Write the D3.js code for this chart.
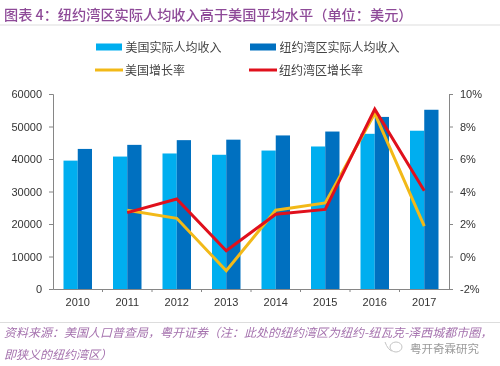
<!DOCTYPE html>
<html>
<head>
<meta charset="utf-8">
<script src="https://cdn.jsdelivr.net/npm/d3@7/dist/d3.min.js"></script>
<style>
body { margin: 0; background: #fff; }
text { font-family: "Noto Sans CJK SC", sans-serif; }
</style>
</head>
<body>
<div id="wrapper"></div>
<script>
const years = ["2010","2011","2012","2013","2014","2015","2016","2017"];
const usIncome = [39500,40750,41700,41300,42600,43850,47750,48700];
const nyIncome = [43100,44350,45800,45950,47250,48450,52950,55150];
const usGrowth = [null,2.85,2.35,-0.88,2.85,3.3,8.8,1.87];
const nyGrowth = [null,2.7,3.54,0.35,2.6,2.9,9.07,4.05];
const leftTicks = [0,10000,20000,30000,40000,50000,60000];
const rightTicks = [-2,0,2,4,6,8,10];

const titleText = "图表 4\uFF1A纽约湾区实际人均收入高于美国平均水平\uFF08单位\uFF1A美元\uFF09";
const sourceLines = [
	"资料来源\uFF1A美国人口普查局\uFF0C粤开证券\uFF08注\uFF1A此处的纽约湾区为纽约-纽瓦克-泽西城都市圈\uFF0C",
	"即狭义的纽约湾区\uFF09"
];

const width = 500;
const height = 366;
const plot = {left: 53, right: 449, top: 94, bottom: 289};
const purple = "#8e4a98";
const axisCol = "#868686";
const textCol = "#333";
const colors = {us: "#00aeef", ny: "#0070c0", usLine: "#f2b918", nyLine: "#e0101c"};

const svg = d3.select("#wrapper").append("svg")
	.attr("width", width)
	.attr("height", height)
	.style("display", "block")
	.style("filter", "blur(0.35px)");

const xScale = d3.scaleBand().domain(years).range([plot.left, plot.right]);
const barScale = d3.scaleBand().domain(["us","ny"]).range([0, 28.5]);
const yLeft = d3.scaleLinear().domain([0, 60000]).range([plot.bottom, plot.top]);
const yRight = d3.scaleLinear().domain([-2, 10]).range([plot.bottom, plot.top]);
const barOffset = (xScale.bandwidth() - 28.5) / 2;

// title
svg.append("text").attr("x", 4).attr("y", 20)
	.attr("font-size", 14.2).attr("font-weight", 500).attr("fill", purple)
	.text(titleText);
svg.append("line").attr("x1", 0).attr("x2", width).attr("y1", 25).attr("y2", 25)
	.attr("stroke", "#ddd");

// bars
[["us", usIncome], ["ny", nyIncome]].forEach(function (s) {
	svg.selectAll("bar-" + s[0])
		.data(s[1])
		.enter().append("rect")
		.attr("x", function (d, i) { return xScale(years[i]) + barOffset + barScale(s[0]); })
		.attr("y", function (d) { return yLeft(d); })
		.attr("width", barScale.bandwidth())
		.attr("height", function (d) { return plot.bottom - yLeft(d); })
		.attr("fill", colors[s[0]]);
});

// axes
const leftAxis = svg.append("g")
	.attr("transform", "translate(" + plot.left + ",0)")
	.call(d3.axisLeft(yLeft).tickValues(leftTicks).tickSize(4).tickPadding(7).tickFormat(d3.format("d")));
const rightAxis = svg.append("g")
	.attr("transform", "translate(" + plot.right + ",0)")
	.call(d3.axisRight(yRight).tickValues(rightTicks).tickSize(4).tickPadding(7).tickFormat(function (d) { return d + "%"; }));
const bottomAxis = svg.append("g")
	.attr("transform", "translate(0," + plot.bottom + ")")
	.call(d3.axisBottom(xScale).tickSize(0).tickPadding(9));

// band edge ticks on the x axis
svg.selectAll("xedge")
	.data(years.slice(1))
	.enter().append("line")
	.attr("x1", function (d) { return xScale(d); })
	.attr("x2", function (d) { return xScale(d); })
	.attr("y1", plot.bottom)
	.attr("y2", plot.bottom + 3)
	.attr("stroke", axisCol);

[leftAxis, rightAxis, bottomAxis].forEach(function (a) {
	a.selectAll("path,line").attr("stroke", axisCol);
	a.selectAll("text").attr("font-size", 11).attr("fill", textCol)
		.style("font-family", "'Liberation Sans', sans-serif");
});

// lines
const lineGen = d3.line()
	.defined(function (d) { return d !== null; })
	.x(function (d, i) { return xScale(years[i]) + xScale.bandwidth() / 2; })
	.y(function (d) { return yRight(d); });
[[usGrowth, colors.usLine], [nyGrowth, colors.nyLine]].forEach(function (s) {
	svg.append("path").attr("d", lineGen(s[0]))
		.attr("fill", "none").attr("stroke", s[1]).attr("stroke-width", 3);
});

// legend
const legendItems = [
	{name: "美国实际人均收入", x: 96, y: 47, col: colors.us, bar: true},
	{name: "纽约湾区实际人均收入", x: 250, y: 47, col: colors.ny, bar: true},
	{name: "美国增长率", x: 95, y: 70, col: colors.usLine, bar: false},
	{name: "纽约湾区增长率", x: 249, y: 70, col: colors.nyLine, bar: false}
];
legendItems.forEach(function (d) {
	if (d.bar) {
		svg.append("rect").attr("x", d.x).attr("y", d.y - 3.5).attr("width", 26).attr("height", 7).attr("fill", d.col);
	} else {
		svg.append("line").attr("x1", d.x).attr("x2", d.x + 28).attr("y1", d.y).attr("y2", d.y)
			.attr("stroke", d.col).attr("stroke-width", 3);
	}
	svg.append("text").attr("x", d.x + (d.bar ? 29.5 : 30)).attr("y", d.y + 4.5)
		.attr("font-size", 12).attr("fill", "#444").text(d.name);
});

// source note
svg.append("line").attr("x1", 0).attr("x2", width).attr("y1", 322.5).attr("y2", 322.5)
	.attr("stroke", "#ddd");
sourceLines.forEach(function (t, i) {
	svg.append("text").attr("x", 4).attr("y", 337 + i * 21.5)
		.attr("font-size", 12).attr("font-style", "italic").attr("fill", "#a572ae")
		.text(t);
});

// watermark
svg.append("text").attr("x", 410).attr("y", 353)
	.attr("font-size", 11.5).attr("fill", "#9a9a9a").text("粤开奇霖研究");
svg.append("ellipse").attr("cx", 396).attr("cy", 347).attr("rx", 6).attr("ry", 5)
	.attr("fill", "none").attr("stroke", "#c4c4c4");
svg.append("path").attr("d", "M385 342 Q388 350 392 351")
	.attr("fill", "none").attr("stroke", "#c4c4c4");
</script>
</body>
</html>
